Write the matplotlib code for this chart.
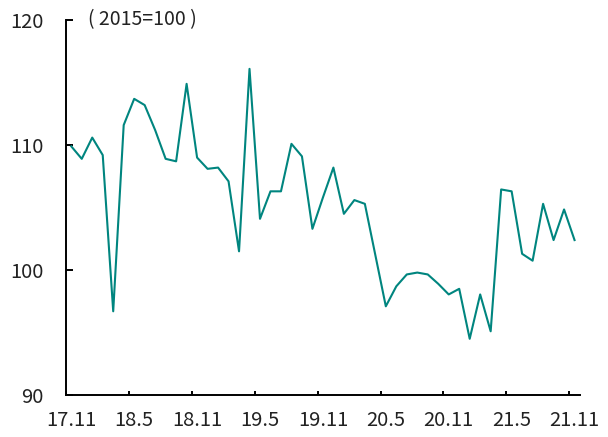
import matplotlib.pyplot as plt

plt.rcParams['font.family'] = ['Noto Sans CJK KR', 'DejaVu Sans']

# 월별 지수 (2015=100), 17.11 ~ 21.11
months = ['17.11', '17.12', '18.1', '18.2', '18.3', '18.4', '18.5', '18.6', '18.7', '18.8',
          '18.9', '18.10', '18.11', '18.12', '19.1', '19.2', '19.3', '19.4', '19.5', '19.6',
          '19.7', '19.8', '19.9', '19.10', '19.11', '19.12', '20.1', '20.2', '20.3', '20.4',
          '20.5', '20.6', '20.7', '20.8', '20.9', '20.10', '20.11', '20.12', '21.1', '21.2',
          '21.3', '21.4', '21.5', '21.6', '21.7', '21.8', '21.9', '21.10', '21.11']
values = [109.9, 108.9, 110.6, 109.2, 96.7, 111.6, 113.7, 113.2, 111.2, 108.9,
          108.7, 114.9, 109.0, 108.1, 108.2, 107.1, 101.5, 116.1, 104.1, 106.3,
          106.3, 110.1, 109.1, 103.3, 105.8, 108.2, 104.5, 105.6, 105.3, 101.2,
          97.1, 98.7, 99.65, 99.8, 99.65, 98.9, 98.05, 98.5, 94.5, 98.05,
          95.1, 106.45, 106.3, 101.3, 100.75, 105.3, 102.4, 104.85, 102.4]
yticks = [90, 100, 110, 120]

fig = plt.figure(figsize=(6.08, 4.37), dpi=100)
ax = fig.add_axes([0.1086, 0.096, 0.845, 0.858])

x = list(range(len(values)))
ax.plot(x, values, color='#00857f', linewidth=1.5)

ax.set_xlim(-0.5, len(values) - 0.5)
ax.set_ylim(90, 120)

ax.spines['top'].set_visible(False)
ax.spines['right'].set_visible(False)
for s in ['left', 'bottom']:
    ax.spines[s].set_linewidth(1.4)
    ax.spines[s].set_color('black')

# 눈금선은 구간 경계, 라벨은 항목 중앙
ax.set_xticks([i - 0.5 for i in range(0, len(values), 6)])
ax.set_xticklabels([])
ax.set_xticks(range(0, len(values), 6), minor=True)
ax.set_xticklabels(months[::6], minor=True)
ax.tick_params(axis='x', which='major', direction='in', length=3, width=1.4)
ax.tick_params(axis='x', which='minor', length=0, pad=11, labelsize=14.5, labelcolor='#222222')

ax.set_yticks(yticks)
ax.tick_params(axis='y', direction='in', length=5, width=1.4, pad=16,
               labelsize=14.5, labelcolor='#222222')

ax.text(0.042, 1.0, '( 2015=100 )', transform=ax.transAxes, ha='left', va='center',
        fontsize=14, color='#222222')

fig.savefig('out.png', dpi=100)
